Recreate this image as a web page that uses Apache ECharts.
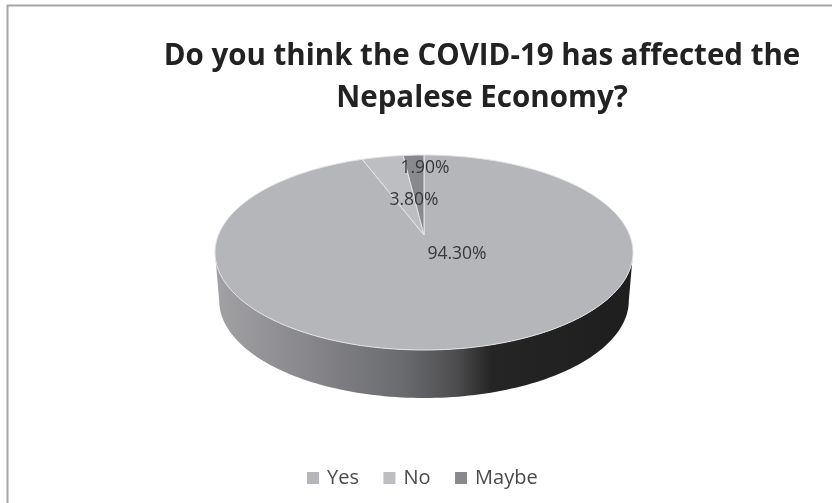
<!DOCTYPE html>
<html>
<head>
<meta charset="utf-8">
<style>html,body{margin:0;padding:0;background:#fff}#chart{width:832px;height:503px}</style>
<script src="https://cdn.jsdelivr.net/npm/echarts@6/dist/echarts.min.js"></script>
</head>
<body>
<div id="chart"></div>
<script>
const titleLines = ['Do you think the COVID-19 has affected the', 'Nepalese Economy?'];
const categories = ['Yes', 'No', 'Maybe'];
const shares = [94.3, 3.8, 1.9];
const sliceColors = ['#b5b6ba', '#bdbec2', '#88898d'];
const labelOffsets = [[33, 19], [-10, -35], [1, -67]];

// Projected disc: a circle seen in perspective, with its centre above the ellipse middle.
const disc = { cx: 424, cy: 235, a: 205.6, b: 94.36, k: 0.1795, depth: 48, taper: 0.98 };
const total = shares.reduce((s, v) => s + v, 0);

function rim(theta, lower) {
  const u = Math.sin(theta), v = Math.cos(theta), w = 1 + disc.k * v;
  const x = disc.a * u / w, y = -disc.b * v / w;
  return lower
    ? [disc.cx + x * disc.taper, disc.cy + y + disc.depth]
    : [disc.cx + x, disc.cy + y];
}

function sliceRange(index) {
  const before = shares.slice(0, index).reduce((s, v) => s + v, 0);
  return [before / total * 2 * Math.PI, (before + shares[index]) / total * 2 * Math.PI];
}

function wallShape() {
  const start = Math.acos(-disc.k), end = 2 * Math.PI - start, pts = [], n = 120;
  for (let i = 0; i <= n; i++) pts.push(rim(start + (end - start) * i / n, false));
  for (let i = n; i >= 0; i--) pts.push(rim(start + (end - start) * i / n, true));
  return pts;
}

function renderSlice(index) {
  return function (params, api) {
    const [from, to] = sliceRange(index);
    const pts = [[disc.cx, disc.cy]], n = Math.max(6, Math.round((to - from) * 60));
    for (let i = 0; i <= n; i++) pts.push(rim(from + (to - from) * i / n, false));
    const children = [];
    if (index === 0) {
      children.push({
        type: 'polygon',
        shape: { points: wallShape() },
        style: {
          fill: new echarts.graphic.LinearGradient(0, 0, 1, 0, [
            { offset: 0, color: '#a2a2a5' },
            { offset: 0.2, color: '#8a8a8e' },
            { offset: 0.45, color: '#6a6b6f' },
            { offset: 0.58, color: '#4c4c4e' },
            { offset: 0.66, color: '#252525' },
            { offset: 1, color: '#1e1e1e' }
          ])
        }
      });
    }
    children.push({
      type: 'polygon',
      shape: { points: pts },
      style: { fill: sliceColors[index], stroke: '#e4e4e6', lineWidth: 1 }
    });
    const value = api.value(0);
    children.push({
      type: 'text',
      z2: 10,
      style: {
        x: disc.cx + labelOffsets[index][0],
        y: disc.cy + labelOffsets[index][1],
        text: value.toFixed(2) + '%',
        align: 'center',
        verticalAlign: 'middle',
        fill: '#38383a',
        font: '17.5px "Open Sans"'
      }
    });
    return { type: 'group', children };
  };
}

const chart = echarts.init(document.getElementById('chart'), null, { renderer: 'canvas' });
chart.setOption({
  animation: false,
  backgroundColor: '#ffffff',
  title: [
    { text: titleLines[0], left: 477, top: 37, textAlign: 'center',
      textStyle: { fontFamily: 'Open Sans', fontWeight: 'bold', fontSize: 29.5, color: '#222222' } },
    { text: titleLines[1], left: 477, top: 79, textAlign: 'center',
      textStyle: { fontFamily: 'Open Sans', fontWeight: 'bold', fontSize: 29.5, color: '#222222' } }
  ],
  legend: {
    data: categories,
    left: 302,
    top: 463,
    icon: 'rect',
    itemWidth: 12,
    itemHeight: 12,
    itemGap: 24.5,
    textStyle: { fontFamily: 'Open Sans', fontSize: 20, color: '#4a4a4e', padding: [0, 0, 0, 3] }
  },
  graphic: [{
    type: 'polyline',
    silent: true,
    shape: { points: [[7.5, 503], [7.5, 5.5], [832, 5.5]] },
    style: { fill: null, stroke: '#a6a6a8', lineWidth: 2 }
  }],
  series: categories.map((name, i) => ({
    type: 'custom',
    name,
    coordinateSystem: 'none',
    itemStyle: { color: sliceColors[i] },
    renderItem: renderSlice(i),
    data: [[shares[i]]]
  }))
});
</script>
</body>
</html>
